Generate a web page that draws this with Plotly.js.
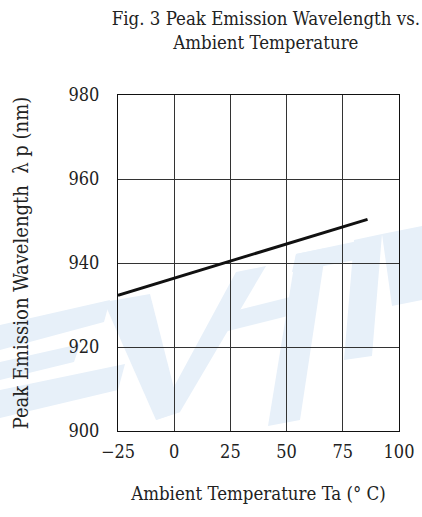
<!DOCTYPE html>
<html><head><meta charset="utf-8">
<script src="https://cdn.plot.ly/plotly-3.0.1.min.js"></script>
<style>html,body{margin:0;padding:0;background:#fff;}#chart{width:422px;height:517px;}</style>
</head><body><div id="chart"></div>
<script>
const temperature = [-25, 86];
const wavelength = [932.3, 950.4];
const xTicks = [-25, 0, 25, 50, 75, 100];
const yTicks = [900, 920, 940, 960, 980];

const FONT = 'DejaVu Serif Condensed, Liberation Serif, serif';

// plot-area geometry (pixels) for converting the faint watermark outline to paper coordinates
const L = 118, R = 399, T = 95, B = 431;
function px(x, y) { return ((x - L) / (R - L)).toFixed(4) + ',' + ((B - y) / (B - T)).toFixed(4); }
function poly(pts) { return 'M' + pts.map(p => px(p[0], p[1])).join(' L') + ' Z'; }
const wmColor = '#e7f0f9';
const watermark = [
  // E (left)
  [[0,325],[110,300],[104,322],[0,350]],
  [[0,362],[80,344],[74,362],[0,380]],
  [[0,390],[125,364],[118,390],[0,418]],
  // V
  [[104,302],[150,294],[180,412],[156,420]],
  [[156,420],[180,412],[266,266],[236,272]],
  // E (middle)
  [[296,254],[326,248],[300,420],[268,426]],
  [[296,254],[372,238],[366,258],[292,272]],
  [[222,314],[318,290],[312,310],[216,334]],
  // R
  [[354,240],[382,234],[372,356],[344,360]],
  [[382,234],[422,226],[422,300],[392,306]]
].map(p => ({type: 'path', xref: 'paper', yref: 'paper', path: poly(p), fillcolor: wmColor, line: {width: 0}, layer: 'below'}));

const trace = {
  x: temperature, y: wavelength, type: 'scatter', mode: 'lines',
  line: {color: '#111', width: 3}, hoverinfo: 'skip'
};
const layout = {
  width: 422, height: 517,
  margin: {l: L, r: 422 - R, t: T, b: 517 - B},
  paper_bgcolor: '#fff', plot_bgcolor: 'rgba(0,0,0,0)',
  showlegend: false,
  font: {family: FONT, color: '#222', size: 18},
  title: {text: 'Fig. 3 Peak Emission Wavelength vs.<br>Ambient Temperature', x: 0.63, xanchor: 'center', y: 0.952, yanchor: 'top', font: {family: FONT, size: 18.5, color: '#222'}},
  xaxis: {range: [-25, 100], tickvals: xTicks, showgrid: true, gridcolor: '#333', gridwidth: 1, zeroline: false,
    showline: true, mirror: true, linecolor: '#111', linewidth: 1, ticks: '', ticklen: 0, ticklabelstandoff: 4,
    tickfont: {family: FONT, size: 18},
    title: {text: 'Ambient Temperature Ta (° C)', font: {family: FONT, size: 18.5}, standoff: 26}, fixedrange: true},
  yaxis: {range: [900, 980], tickvals: yTicks, showgrid: true, gridcolor: '#333', gridwidth: 1, zeroline: false,
    showline: true, mirror: true, linecolor: '#111', linewidth: 1, ticks: '', ticklen: 0, ticklabelstandoff: 14,
    tickfont: {family: FONT, size: 18},
    title: {text: 'Peak Emission Wavelength  λ p (nm)', font: {family: FONT, size: 20}, standoff: 34}, fixedrange: true},
  shapes: watermark
};
Plotly.newPlot('chart', [trace], layout, {displayModeBar: false, staticPlot: true});
</script></body></html>
